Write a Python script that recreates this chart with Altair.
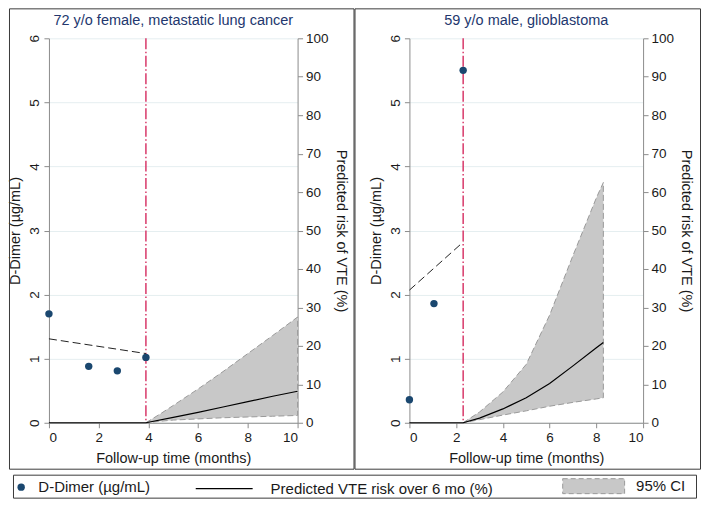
import altair as alt
import pandas as pd

FONT = "Liberation Sans"
NAVY = "#1a476f"
RED = "#d8396a"
CI_FILL = "#c8c8c8"
CI_EDGE = "#9a9a9a"
TXT = "#1a1a1a"

# ---------------- Panel A ----------------
a_title = "72 y/o female, metastatic lung cancer"
a_dd_t = [0.0, 1.6, 2.75, 3.9]
a_dd_v = [1.70, 0.88, 0.81, 1.02]
a_trend_t = [0.0, 3.9]
a_trend_v = [1.31, 1.08]
a_event_t = [3.9]
a_risk_t = [0.0, 3.9, 5, 6, 7, 8, 9, 10]
a_risk_v = [0, 0, 1.4, 2.7, 4.1, 5.5, 6.9, 8.2]
a_ci_t = [3.9, 4.5, 5, 6, 7, 8, 9, 10]
a_ci_lo = [0, 0.4, 0.7, 1.0, 1.3, 1.5, 1.7, 1.9]
a_ci_hi = [0, 2.4, 4.5, 8.8, 13.3, 18.0, 22.7, 27.5]

# ---------------- Panel B ----------------
b_title = "59 y/o male, glioblastoma"
b_dd_t = [0.0, 1.05, 2.3]
b_dd_v = [0.36, 1.86, 5.5]
b_trend_t = [0.0, 2.3]
b_trend_v = [2.07, 2.82]
b_event_t = [2.3]
b_risk_t = [0, 2.3, 3, 4, 5, 6, 7, 8, 8.3]
b_risk_v = [0, 0, 1.2, 3.6, 6.5, 10.2, 14.8, 19.5, 20.9]
b_ci_t = [2.3, 3, 4, 5, 6, 7, 8, 8.3]
b_ci_lo = [0, 0.8, 2.0, 3.1, 4.3, 5.3, 6.2, 6.5]
b_ci_hi = [0, 2.8, 8.0, 15.2, 28.0, 43.5, 58.5, 62.5]

x_ticks = [0, 2, 4, 6, 8, 10]
yl_ticks = [0, 1, 2, 3, 4, 5, 6]
yr_ticks = [0, 10, 20, 30, 40, 50, 60, 70, 80, 90, 100]

lab_dd = "D-Dimer (µg/mL)"
lab_risk = "Predicted VTE risk over 6 mo (%)"
lab_ci = "95% CI"

leg_common = dict(orient="none", title=None, labelFont=FONT, labelFontSize=15,
                  labelColor=TXT, padding=0, labelLimit=0)
leg_dd = alt.Legend(legendX=-35.3, legendY=442, symbolType="circle", symbolSize=55,
                    symbolStrokeWidth=0, labelOffset=9.7, **leg_common)
leg_risk = alt.Legend(legendX=165, legendY=440.5, symbolType="M-3,0H3", symbolSize=361,
                      symbolStrokeWidth=1.2, symbolStrokeColor="black", labelOffset=36,
                      **leg_common)
leg_ci = alt.Legend(legendX=538, legendY=441, symbolType="M-6.2,-1.5H6.2V1.5H-6.2Z",
                    symbolSize=100, symbolStrokeColor=CI_EDGE, symbolStrokeWidth=1,
                    symbolDash=[5, 3], labelOffset=35, **leg_common)


def box(x1, x2, y1, y2):
    return alt.Chart(alt.Data(values=[{"k": 0}])).mark_rect(
        fillOpacity=0, stroke="#3a3a3a", strokeWidth=1
    ).encode(x=alt.value(x1), x2=alt.value(x2), y=alt.value(y1), y2=alt.value(y2))


def panel(title, dd_t, dd_v, tr_t, tr_v, ev_t, rk_t, rk_v, ci_t, ci_lo, ci_hi,
          width, with_legend, title_offset):
    dd_df = pd.DataFrame({"t": dd_t, "v": dd_v, "s": lab_dd})
    tr_df = pd.DataFrame({"t": tr_t, "v": tr_v})
    ev_df = pd.DataFrame({"t": ev_t})
    rk_df = pd.DataFrame({"t": rk_t, "r": rk_v, "s": lab_risk})
    ci_df = pd.DataFrame({"t": ci_t, "lo": ci_lo, "hi": ci_hi, "s": lab_ci})
    n = len(ci_t)
    ol_df = pd.DataFrame({
        "t": list(ci_t) + list(ci_t[::-1]),
        "r": list(ci_hi) + list(ci_lo[::-1]),
        "o": list(range(2 * n)),
    })

    x = alt.X("t:Q", scale=alt.Scale(domain=[0, 10], nice=False),
              axis=alt.Axis(values=x_ticks, title="Follow-up time (months)",
                            labelPadding=3, titlePadding=7, grid=False))
    yl_scale = alt.Scale(domain=[0, 6], nice=False)
    yl_axis = alt.Axis(orient="left", values=yl_ticks, title=lab_dd, grid=True,
                       labelAngle=-90, labelAlign="center", labelBaseline="bottom",
                       labelPadding=2, titlePadding=5)
    yr_scale = alt.Scale(domain=[0, 100], nice=False)
    yr_axis = alt.Axis(orient="right", values=yr_ticks,
                       title="Predicted risk of VTE (%)", grid=False,
                       labelPadding=3, titlePadding=5)

    if with_legend:
        c_pt = alt.Color("s:N", scale=alt.Scale(range=[NAVY]), legend=leg_dd)
        c_rk = alt.Stroke("s:N", scale=alt.Scale(range=["black"]), legend=leg_risk)
        c_ci = alt.Fill("s:N", scale=alt.Scale(range=[CI_FILL]), legend=leg_ci)
    else:
        c_pt = alt.value(NAVY)
        c_rk = alt.value("black")
        c_ci = alt.value(CI_FILL)

    area = alt.Chart(ci_df).mark_area(opacity=1, fillOpacity=1).encode(
        x=x, y=alt.Y("hi:Q", scale=yr_scale, axis=yr_axis), y2="lo:Q", fill=c_ci)
    outline = alt.Chart(ol_df).mark_line(color=CI_EDGE, strokeDash=[6, 3], strokeWidth=1).encode(
        x=x, y=alt.Y("r:Q", scale=yr_scale, axis=yr_axis), order="o:Q")
    risk = alt.Chart(rk_df).mark_line(strokeWidth=1.2).encode(
        x=x, y=alt.Y("r:Q", scale=yr_scale, axis=yr_axis), stroke=c_rk)
    right = alt.layer(area, outline, risk)

    rule = alt.Chart(ev_df).mark_rule(color=RED, strokeWidth=1.5,
                                      strokeDash=[11, 2.5, 1.5, 2.5]).encode(x=x)
    trend = alt.Chart(tr_df).mark_line(color="#222222", strokeDash=[8, 4], strokeWidth=1).encode(
        x=x, y=alt.Y("v:Q", scale=yl_scale, axis=yl_axis))
    pts = alt.Chart(dd_df).mark_circle(size=55, opacity=1).encode(
        x=x, y=alt.Y("v:Q", scale=yl_scale, axis=yl_axis), color=c_pt)
    left = alt.layer(rule, trend, pts)

    layers = [left, right]
    if with_legend:
        frames = [
            box(-39.5, 305.5, -29.5, 431.5),
            box(306.5, 652.5, -29.5, 431.5),
            box(-35.5, 648.5, 437.5, 460.5),
        ]
        layers = frames + layers

    ch = alt.layer(*layers).resolve_scale(y="independent").properties(
        width=width, height=385,
        title=alt.TitleParams(text=title, color="#23376e", fontSize=14.5, font=FONT,
                              fontWeight="normal", anchor="middle", frame="group",
                              offset=title_offset),
    )
    return ch


pA = panel(a_title, a_dd_t, a_dd_v, a_trend_t, a_trend_v, a_event_t,
           a_risk_t, a_risk_v, a_ci_t, a_ci_lo, a_ci_hi, 249, True, -20.5)
pB = panel(b_title, b_dd_t, b_dd_v, b_trend_t, b_trend_v, b_event_t,
           b_risk_t, b_risk_v, b_ci_t, b_ci_lo, b_ci_hi, 234, False, 3)

chart = alt.hconcat(pA, pB, spacing=112, bounds="flush").properties(
    padding=0, background="white"
).configure_view(strokeWidth=0).configure_axis(
    labelFont=FONT, titleFont=FONT, labelFontSize=13.5, titleFontSize=14.5,
    titleFontWeight="normal", labelColor=TXT, titleColor=TXT,
    domainColor="#8c8c8c", tickColor="#8c8c8c", tickSize=5,
    gridColor="#e5eef0", gridWidth=1,
)

chart.save("out.html", embed_options={"renderer": "svg", "actions": False})
